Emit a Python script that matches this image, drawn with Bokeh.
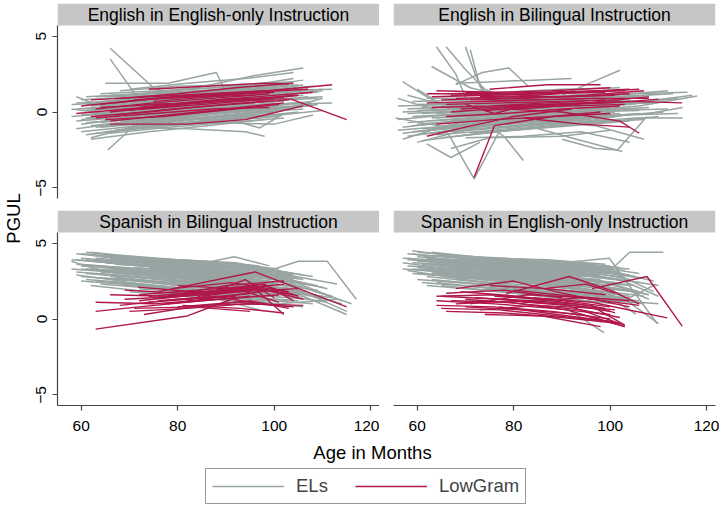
import math
from bokeh.plotting import figure
from bokeh.models import Range1d, FixedTicker, BoxAnnotation, Label, Legend, LegendItem
from bokeh.layouts import row, column
from bokeh.embed import file_html
from bokeh.resources import INLINE

# ---------------- data ----------------
PANEL_TITLES = ["English in English-only Instruction", "English in Bilingual Instruction",
                "Spanish in Bilingual Instruction", "Spanish in English-only Instruction"]
X_TICKS = [60, 80, 100, 120]
Y_TICKS = [-5, 0, 5]
X_LABEL = "Age in Months"
Y_LABEL = "PGUL"
SERIES = ["ELs", "LowGram"]

# Panel 1: English in English-only Instruction
P1_EL_AGE = [
    [59,71,83,95],[60,72,84,96],[61,73,85,97],[62,74,86,98],[63,75,87,99],
    [60,72,84,96],[61,73,85,97],[64,76,88,100],[65,77,89,101],[66,78,90,102],
    [67,79,91,103],[68,80,92,104],[62,74,86,98],[63,75,87,99],[64,76,88,100],
    [65,77,89,101],[66,78,90,102],[69,81,93,105],[70,82,94,106],[71,83,95,107],
    [72,84,96,108],[73,85,97,109],[67,79,91,103],[68,80,92,104],[59,71,83,95],
    [60,72,84,96],[61,73,85,97],[62,74,86,98],[64,76,88,100],[65,77,89,101],
    [66,75,80],[66,72,78],[65.5,69,72],[65,78,88,90],[70,82,94,104],
    [72,84,96,106],[75,87,99,112],[76,88,100,112],[74,86,98,110],[70,82,94,98],
    [76,88,100,108],[58,63,70],[59,64,70],[62,68,75],[80,92,97,102],
    [68,80,92,104],[73,85,97,105],[77,89,101,110],[80,92,104],
    [58,70,82,94],[59,71,83,95],[60,72,84,96],[61,73,85,97],[62,74,86,98],
    [63,75,87,99],[64,76,88,100],[65,77,89,101],[66,78,90,102],[67,79,91,103],
    [68,80,92,104],[69,81,93,105],[70,82,94,106],[71,83,95,107],[72,84,96,108],
    [74,86,98,110],[63,75,87,99],[60,72,84,96],[61,73,85,97],[64,76,88,100],
    [66,78,90,102],[69,81,93,105],[75,87,99,106],[78,90,102,109],
    [60,72,84,96],[62,74,86,98],[63,75,87,99],[65,77,89,101],[66,78,90,102],
    [67,79,91,103],[68,80,92,104],[70,82,94,106],[71,83,95,107],[73,85,97,109],
    [74,86,98,110],[76,88,100,110],[61,73,85,97],[64,76,88,100],[69,81,93,105],
    [72,84,96,108],[59,71,83,95],[58,70,82,94],[65,77,89,101],[77,89,101,106],
]
P1_EL_VAL = [
    [-1.1,-0.6,-0.2,0.3],[-0.8,-0.3,0.2,0.5],[-0.4,0.0,0.3,0.9],[0.1,0.4,0.8,1.0],[0.6,0.9,1.1,1.4],
    [0.8,1.0,1.3,1.5],[-1.5,-1.0,-0.6,-0.2],[-1.0,-0.7,-0.4,0.0],[-0.5,-0.2,0.1,0.4],[0.0,0.3,0.6,0.7],
    [0.3,0.6,0.9,1.2],[0.9,1.2,1.5,1.8],[-1.8,-1.3,-0.9,-0.5],[-0.2,0.1,0.5,0.7],[0.4,0.6,0.9,1.2],
    [1.0,1.1,1.3,1.7],[-0.9,-0.6,-0.2,0.2],[-0.3,0.1,0.4,0.6],[0.2,0.5,0.8,1.1],[0.6,0.9,1.3,1.5],
    [-0.6,-0.2,0.2,0.5],[0.0,0.4,0.7,0.9],[-1.2,-0.8,-0.4,-0.1],[-0.1,0.2,0.5,0.9],[0.2,0.5,0.8,1.1],
    [-0.2,0.2,0.5,0.8],[0.5,0.7,1.0,1.3],[-0.7,-0.3,0.0,0.4],[1.2,1.4,1.6,1.9],[-1.3,-0.9,-0.6,-0.3],
    [4.2,1.6,1.0],[3.5,0.8,-0.2],[-2.5,-1.5,-0.5],[1.9,1.9,2.6,1.3],[1.5,1.9,2.2,2.6],
    [1.2,1.6,2.4,2.9],[0.8,1.0,1.4,1.5],[0.2,0.4,0.5,0.6],[-0.5,-0.4,-0.2,0.9],[-1.0,-1.1,-1.3,-1.6],
    [-0.9,-0.7,-0.8,-0.2],[0.2,0.0,-0.5],[1.0,0.4,-0.8],[-1.7,-1.2,-0.6],[-0.4,-0.6,-1.05,-0.1],
    [1.4,1.7,1.8,2.0],[1.0,1.3,1.5,1.8],[0.5,0.8,1.1,1.4],[1.0,1.6,2.2],
    [-0.3,0.0,0.4,0.7],[0.6,0.8,1.1,1.3],[-1.3,-0.9,-0.5,-0.1],[0.2,0.5,0.8,1.0],[-0.9,-0.5,-0.2,0.2],
    [1.0,1.2,1.4,1.6],[-0.3,0.0,0.3,0.6],[0.5,0.8,1.1,1.2],[-1.4,-1.0,-0.7,-0.4],[0.8,1.0,1.3,1.6],
    [-0.6,-0.3,0.1,0.3],[0.5,0.8,1.1,1.4],[-0.8,-0.5,-0.1,0.2],[0.0,0.3,0.6,1.0],[0.9,1.1,1.4,1.7],
    [0.3,0.6,0.8,1.0],[-1.0,-0.6,-0.3,0.1],[0.1,0.3,0.6,0.9],[-0.7,-0.4,0.0,0.3],[0.7,1.0,1.2,1.5],
    [0.4,0.7,1.0,1.4],[-1.1,-0.7,-0.4,0.0],[1.3,1.6,1.8,2.1],[-0.3,0.0,0.2,0.5],
    [-0.5,-0.1,0.3,0.6],[0.4,0.7,1.0,1.2],[-1.4,-1.0,-0.6,-0.2],[0.1,0.4,0.7,1.0],[1.1,1.3,1.5,1.8],
    [-0.5,-0.1,0.2,0.5],[0.3,0.6,0.8,1.1],[0.9,1.2,1.4,1.6],[-0.4,-0.1,0.2,0.4],[0.6,0.9,1.1,1.3],
    [-0.9,-0.6,-0.3,0.1],[0.6,0.9,1.2,1.5],[1.0,1.2,1.4,1.7],[-0.7,-0.3,0.0,0.3],[0.2,0.5,0.9,1.2],
    [-0.2,0.1,0.4,0.7],[-0.6,-0.3,0.1,0.4],[0.5,0.7,0.9,1.2],[-0.9,-0.5,-0.1,0.2],[1.0,1.2,1.5,1.8],
]
P1_LG_AGE = [
    [59,73,85,97],[62,74,86,98],[63,75,87,99],[64,76,88,100],[65,77,89,101],
    [66,78,90,102],[67,79,91,103],[68,80,92,104],[66,82,94,106],[72,84,96,108],
    [60,72,84,96],[62,74,86,98],[75,87,99,112],[79,91,103.5,115],[74,86,98,103],
    [66,78,90,102],[69,81,93,105],[63,75,87,99],[71,83,95,107],[64,76,88,100],
    [67,79,91,103],[73,85,97,104],
]
P1_LG_VAL = [
    [-0.1,0.3,0.6,0.9],[-0.3,0.0,0.4,0.7],[0.2,0.6,0.9,1.2],[0.5,0.9,1.1,1.3],[-0.5,-0.3,0.1,0.5],
    [0.0,0.4,0.8,1.0],[0.6,1.0,1.2,1.5],[0.9,1.2,1.6,1.9],[-0.8,-0.8,-0.5,0.4],[0.3,0.7,1.0,1.3],
    [0.4,0.8,1.0,1.1],[0.8,1.0,1.2,1.4],[0.7,1.0,1.4,1.8],[0.5,0.9,0.85,-0.5],[1.5,1.7,1.9,1.85],
    [-0.6,-0.2,0.2,0.6],[0.1,0.4,0.7,1.1],[-0.4,-0.1,0.2,0.3],[0.8,1.1,1.3,1.5],[0.3,0.5,0.7,0.8],
    [-0.2,0.2,0.5,0.8],[0.5,0.6,0.9,1.1],
]

# Panel 2: English in Bilingual Instruction
P2_EL_AGE = [
    [56,66,78,90],[57,68,80,92],[58,69,81,93],[58,70,82,94],[59,71,83,95],
    [59,71,83,95],[60,72,84,96],[60,72,84,96],[61,73,85,97],[61,73,85,97],
    [62,74,86,98],[62,74,86,98],[63,75,87,99],[63,75,87,99],[64,76,88,100],
    [64,76,88,100],[65,77,89,101],[65,77,89,101],[66,78,90,102],[66,78,90,102],
    [67,79,91,103],[68,80,92,104],[69,81,93,105],[70,82,94,106],[72,84,96,108],
    [74,86,98,110],[76,88,100,112],[78,90,102,114],[80,92,104,116],[82,94,106,118],
    [81,93,105,115],[79,91,103,114],[64,68,72,76],[66,70,74,78],[70,72,75,80],
    [71,73,75],[68,73.5,79,83],[66,71.8,77],[62,67,73],[74,78,82],
    [88,95,102],[90,97,101.5,107.6],[84,93,102.5],[95,104,113.6],[57,62,67],
    [60,65,70],[63,71,80],[68,76,84,92],[70,82,94,104],[67,75,90,100],
    [85,97,107],
    [56,67,79,91],[57,69,81,93],[58,70,82,94],[59,71,83,95],[60,72,84,96],
    [61,73,85,97],[62,74,86,98],[63,75,87,99],[64,76,88,100],[65,77,89,101],
    [66,78,90,102],[67,79,91,103],[68,80,92,104],[69,81,93,105],[70,82,94,106],
    [71,83,95,107],[73,85,97,109],[75,87,99,111],[77,89,101,113],[57,63,70],
    [58,64,71],[60,66,74],[83,95,107,117],
    [56,68,80,92],[57,69,81,93],[58,70,82,94],[59,71,83,95],[60,72,84,96],
    [61,73,85,97],[62,74,86,98],[63,75,87,99],[64,76,88,100],[65,77,89,101],
    [66,78,90,102],[67,79,91,103],[68,80,92,104],[70,82,94,106],[72,84,96,108],
    [74,86,98,110],[76,88,100,112],[55.5,61,66],[56,60,65],[84,96,108,115],
]
P2_EL_VAL = [
    [-0.5,-0.2,0.1,0.3],[-1.0,-0.6,-0.3,0.0],[-1.6,-1.1,-0.7,-0.4],[0.2,0.4,0.5,0.7],[-0.3,-0.1,0.2,0.5],
    [-1.3,-0.9,-0.6,-0.2],[0.5,0.6,0.8,1.0],[-0.8,-0.5,-0.2,0.2],[-0.1,0.1,0.3,0.6],[-1.9,-1.4,-1.0,-0.7],
    [-0.6,-0.4,-0.1,0.1],[0.9,0.9,1.0,1.2],[-1.1,-0.8,-0.4,-0.1],[0.1,0.3,0.4,0.6],[-0.4,-0.2,0.0,0.3],
    [-1.5,-1.2,-0.8,-0.5],[0.3,0.5,0.7,0.9],[-0.9,-0.6,-0.3,0.0],[-0.2,0.0,0.2,0.4],[1.2,1.3,1.5,1.6],
    [-1.3,-1.0,-0.6,-0.2],[0.0,0.2,0.5,0.8],[-0.7,-0.4,-0.1,0.2],[0.6,0.7,0.9,1.1],[-0.3,-0.1,0.1,0.3],
    [0.4,0.6,0.8,1.2],[-0.5,-0.2,0.1,0.2],[0.3,0.5,0.6,0.9],[0.9,1.0,1.2,1.3],[-0.2,0.1,0.4,1.05],
    [-0.9,-0.7,-0.4,-0.4],[-1.2,-0.8,-0.2,-0.1],[4.3,2.5,-0.5,-1.0],[4.3,2.8,1.5,1.0],[4.3,2.5,0.6,0.2],
    [4.1,1.7,0.8],[1.8,2.6,2.9,1.7],[-1.2,-4.4,-1.3],[-2.1,-3.0,-2.0],[-0.8,-1.6,-3.2],
    [0.8,1.8,2.75],[-1.8,-2.4,-2.5,-0.3],[-1.0,-1.8,-2.6],[0.3,0.5,0.9],[2.0,1.0,0.2],
    [1.5,0.5,-0.3],[3.0,1.6,0.9],[1.9,2.0,2.1,2.2],[-1.7,-1.6,-1.3,-2.0],[-2.4,-1.7,-1.6,-1.2],
    [-0.6,-0.9,-1.8],
    [-1.2,-0.9,-0.5,-0.2],[0.0,0.2,0.4,0.6],[-0.7,-0.4,-0.1,0.1],[0.7,0.8,1.0,1.1],[-1.5,-1.1,-0.8,-0.5],
    [0.3,0.4,0.6,0.8],[-1.2,-0.9,-0.5,-0.3],[-0.4,-0.1,0.1,0.4],[0.6,0.7,0.8,1.0],[-1.7,-1.3,-0.9,-0.6],
    [-0.9,-0.6,-0.4,-0.1],[0.4,0.5,0.7,0.9],[-1.0,-0.7,-0.5,-0.2],[0.8,0.9,1.1,1.2],[-0.5,-0.3,0.0,0.1],
    [-1.4,-1.1,-0.7,-0.5],[0.1,0.3,0.5,0.6],[-0.9,-0.6,-0.3,0.0],[0.6,0.8,1.0,1.2],[-1.8,-1.2,-0.6],
    [1.1,0.6,0.2],[-2.0,-1.5,-0.9],[0.2,0.4,0.7,1.1],
    [0.4,0.5,0.7,0.8],[-1.4,-1.0,-0.7,-0.4],[-0.1,0.1,0.3,0.5],[-0.9,-0.6,-0.3,0.0],[0.1,0.3,0.4,0.6],
    [-1.1,-0.8,-0.5,-0.2],[0.5,0.6,0.7,0.9],[-0.8,-0.5,-0.2,0.1],[-0.1,0.1,0.3,0.5],[-1.3,-1.0,-0.6,-0.3],
    [0.6,0.7,0.9,1.1],[-0.6,-0.3,0.0,0.3],[-1.6,-1.2,-0.9,-0.6],[-1.0,-0.7,-0.4,-0.1],[0.5,0.7,0.9,1.0],
    [-1.3,-1.0,-0.7,-0.3],[0.8,0.9,1.1,1.4],[-0.4,-0.7,-1.0],[0.9,0.5,0.1],[-0.5,-0.3,-0.1,0.3],
]
P2_LG_AGE = [
    [62,74,86,98],[62,74,86,98],[63,75,87,99],[63,75,87,99],[64,76,88,100],
    [65,77,89,101],[66,78,90,102],[67,79,91,103],[68,80,92,104],[69,81,93,105],
    [70,82,94,106],[72,84,96,108],[66,78,90,102],[70,76,82],[62,70,80,92],
    [71.8,76,88,98],[74,86,98,108],[76,88,100,110],[78,90,102,106],[80,92,104,114.9],
    [64,76,88,100],[67,79,91,103],[73,85,97,104],[82,94,104],[71,83,95,107],
    [75,87,98],
]
P2_LG_VAL = [
    [1.2,1.2,1.3,1.4],[0.6,0.7,0.8,0.9],[1.0,1.1,1.2,1.3],[0.3,0.4,0.6,0.8],[1.4,1.3,1.4,1.6],
    [0.8,0.9,1.0,1.1],[0.5,0.6,0.7,0.8],[1.1,1.2,1.3,1.4],[0.9,1.0,1.0,1.2],[0.2,0.4,0.6,0.7],
    [1.3,1.2,1.3,1.5],[0.7,0.8,0.9,0.9],[-0.3,-0.1,0.2,0.4],[0.5,-0.1,0.4],[-1.6,-1.0,-0.3,0.2],
    [-4.3,-0.9,-0.3,0.0],[0.1,0.3,0.7,1.0],[0.4,0.5,0.6,0.85],[0.2,0.0,-0.6,-1.4],[0.3,0.5,0.7,0.6],
    [-0.8,-0.5,-0.3,-0.1],[0.0,0.3,0.4,0.5],[1.0,1.1,1.4,1.5],[-0.4,-0.8,-1.0],[0.8,0.9,1.1,1.4],
    [1.5,1.8,1.8],
]

# Panel 3: Spanish in Bilingual Instruction
P3_EL_AGE = [
    [59,71,83,95],[59,71,83,95],[60,72,84,96],[60,72,84,96],[61,73,85,97],
    [61,73,85,97],[62,74,86,98],[62,74,86,98],[63,75,87,99],[63,75,87,99],
    [64,76,88,100],[64,76,88,100],[65,77,89,101],[65,77,89,101],[66,78,90,102],
    [66,78,90,102],[67,79,91,103],[67,79,91,103],[68,80,92,104],[69,81,93,105],
    [70,82,94,106],[71,83,95,107],[72,84,96,108],[73,85,97,109],[74,86,98,110],
    [76,88,100,112],[78,90,102,114],[79,91,103,115],[80,92,104,116],[88,100,105,111,117],
    [58,62,68],[59,66,74],[60,70,80,90],[68,80,92,104],[70,82,94,106],
    [75,87,99,111],[77,89,101,113],[82,94,106,115],[73,85,92,97],[86,93,99,104],
    [81,91.7,99],[62,74,86,98],[85,97,103],[61,73,85,97],[63,75,87,99],
    [58,70,82,94],[59,71,83,95],[60,72,84,96],[60,72,84,96],[61,73,85,97],
    [62,74,86,98],[62,74,86,98],[63,75,87,99],[64,76,88,100],[64,76,88,100],
    [65,77,89,101],[65,77,89,101],[66,78,90,102],[67,79,91,103],[67,79,91,103],
    [68,80,92,104],[69,81,93,105],[70,82,94,106],[71,83,95,107],[72,84,96,108],
    [74,86,98,110],[76,88,100,112],[77,89,101,113],[81,93,105,114],
    [59,71,83,95],[60,72,84,96],[61,73,85,97],[62,74,86,98],[63,75,87,99],
    [64,76,88,100],[65,77,89,101],[66,78,90,102],[67,79,91,103],[68,80,92,104],
    [69,81,93,105],[70,82,94,106],[71,83,95,107],[73,85,97,109],[75,87,99,111],
    [58,70,82,94],[60,72,84,96],[62,74,86,98],[64,76,88,100],[78,90,102,112],
]
P3_EL_VAL = [
    [4.3,3.9,3.6,3.2],[3.6,3.3,3.0,2.6],[4.0,3.7,3.4,3.0],[2.8,2.5,2.2,1.8],[3.3,3.1,2.7,2.4],
    [4.4,4.0,3.8,3.5],[3.0,2.7,2.3,2.0],[3.8,3.5,3.3,2.9],[2.5,2.2,1.8,1.5],[3.5,3.3,3.0,2.7],
    [4.1,3.8,3.6,3.2],[3.1,2.8,2.4,2.1],[3.7,3.4,3.1,2.8],[2.7,2.3,1.9,1.5],[3.3,3.0,2.6,2.2],
    [4.0,3.7,3.5,3.1],[2.4,2.0,1.6,1.2],[3.6,3.4,3.2,2.8],[3.0,2.7,2.4,2.0],[3.9,3.6,3.3,2.7],
    [2.6,2.3,1.9,1.6],[3.4,3.1,2.8,2.3],[2.0,1.7,1.3,1.0],[3.7,3.4,3.0,2.2],[2.8,2.5,2.1,1.5],
    [3.2,3.0,2.6,1.5],[3.5,3.2,2.7,1.2],[2.9,2.6,2.2,0.5],[3.0,2.8,2.3,1.0],[3.4,3.3,3.8,3.8,1.3],
    [3.8,3.4,3.0],[2.9,2.6,2.2],[3.5,3.3,3.0,2.7],[4.2,3.9,3.7,3.0],[1.8,1.5,1.1,0.8],
    [2.4,2.0,1.7,1.1],[1.6,1.3,1.0,1.3],[2.2,1.8,1.5,0.3],[2.2,1.6,1.0,0.6],[3.0,3.6,3.2,2.6],
    [3.4,4.1,3.5],[2.2,1.8,1.5,1.2],[1.8,1.2,0.8],[3.9,3.6,3.3,3.0],[4.2,3.9,3.7,3.3],
    [3.9,3.6,3.3,2.9],[3.1,2.8,2.4,2.1],[4.3,4.0,3.7,3.4],[3.3,3.0,2.7,2.3],[2.6,2.3,1.9,1.6],
    [4.2,3.9,3.6,3.3],[3.5,3.2,2.9,2.5],[3.0,2.7,2.3,1.9],[3.8,3.5,3.2,2.9],[2.7,2.4,2.0,1.7],
    [4.2,3.9,3.7,3.3],[3.2,2.9,2.6,2.3],[2.8,2.4,2.1,1.7],[3.9,3.6,3.4,3.0],[3.1,2.8,2.4,2.0],
    [3.6,3.3,3.0,2.5],[2.2,1.9,1.5,1.2],[3.6,3.4,3.1,2.6],[2.9,2.6,2.2,1.8],[3.9,3.7,3.4,2.8],
    [3.4,3.1,2.7,2.1],[2.6,2.2,1.9,1.4],[3.6,3.4,3.0,2.3],[2.5,2.2,1.8,1.0],
    [3.9,3.6,3.2,2.8],[3.6,3.3,3.0,2.6],[3.0,2.7,2.3,2.0],[3.3,3.0,2.7,2.3],[4.0,3.7,3.4,3.1],
    [3.4,3.1,2.8,2.4],[2.9,2.6,2.2,1.8],[3.7,3.4,3.1,2.7],[2.7,2.4,2.0,1.6],[3.9,3.6,3.4,2.9],
    [3.2,2.9,2.6,2.1],[4.0,3.8,3.5,2.9],[2.3,2.0,1.6,1.3],[3.1,2.8,2.4,1.9],[3.6,3.3,2.9,2.0],
    [3.3,3.0,2.7,2.3],[2.5,2.2,1.8,1.5],[4.4,4.0,3.8,3.4],[2.3,2.0,1.6,1.3],[2.6,2.3,1.9,1.2],
]
P3_LG_AGE = [
    [63,82,92],[76,96,115],[63,75,87],[63,72,85,95],[66,78,90,102],
    [69,81,93,105],[70,82,94,106],[72,84,96,102],[73,85,97],[71.8,87,99],
    [74,86,98,104],[77,89,101],[78,90,102],[80,92,104],[82,94,100],
    [71,83,95],[68,80,92],[79,91,103],[85,97,106],[81,93,102],
    [76,88,97],[69,81,93],
    [75,87,99],[78,90,100],[83,95,104],[72,84,96],[80,92,101],
    [86,95,103],[74,86,95],[88,97,105],
]
P3_LG_VAL = [
    [-0.67,0.2,1.4],[1.8,3.1,0.8],[1.1,1.0,1.3],[0.5,0.8,1.2,1.5],[1.6,1.5,1.9,2.3],
    [1.3,1.5,1.8,2.0],[0.5,0.7,1.0,0.9],[1.2,1.6,2.0,0.3],[0.3,0.9,1.0],[2.1,1.7,2.2],
    [1.5,1.8,2.3,1.2],[1.0,1.3,1.6],[1.5,2.2,2.5],[0.8,1.1,0.8],[1.2,2.6,1.4],
    [0.7,0.8,0.5],[0.9,1.3,1.5],[2.0,2.4,1.8],[1.5,2.0,1.3],[0.9,0.7,0.4],
    [1.2,1.5,1.0],[1.9,1.7,2.0],
    [1.4,1.7,2.0],[1.0,1.5,1.9],[1.7,2.1,1.6],[1.6,1.9,2.2],[2.2,2.0,1.1],
    [0.9,1.2,0.7],[1.1,1.4,1.7],[1.8,2.3,1.5],
]

# Panel 4: Spanish in English-only Instruction
P4_EL_AGE = [
    [57,69,81,93],[58,70,82,94],[59,71,83,95],[59,71,83,95],[60,72,84,96],
    [60,72,84,96],[61,73,85,97],[61,73,85,97],[62,74,86,98],[62,74,86,98],
    [63,75,87,99],[63,75,87,99],[64,76,88,100],[64,76,88,100],[65,77,89,101],
    [66,78,90,102],[67,79,91,103],[68,80,92,104],[69,81,93,105],[70,82,94,106],
    [72,84,96,108],[74,86,98,110],[76,88,100,104,111],[78,90,99.8,109.7],[80,92,100,110],
    [82,94,104,109.5],[84,96,104,110],[86,98,105.3],[88,98.7],[58,64,70],
    [58,66,74],[65,77,89,101],[70,82,94,106],[73,85,97,103],[75,87,95,100],
    [78,90,102,110],[60,72,84,96],[63,75,87,99],[66,78,90,102],[62,74,86,98],
    [90,100,108],[68,80,92,104],
    [57,69,81,93],[58,70,82,94],[59,71,83,95],[60,72,84,96],[60,72,84,96],
    [61,73,85,97],[61,73,85,97],[62,74,86,98],[62,74,86,98],[63,75,87,99],
    [63,75,87,99],[64,76,88,100],[64,76,88,100],[65,77,89,101],[66,78,90,102],
    [66,78,90,102],[67,79,91,103],[68,80,92,104],[69,81,93,105],[70,82,94,106],
    [71,83,95,107],[73,85,97,109],[76,88,100,108],
    [58,70,82,94],[59,71,83,95],[60,72,84,96],[61,73,85,97],[62,74,86,98],
    [63,75,87,99],[64,76,88,100],[65,77,89,101],[66,78,90,102],[67,79,91,103],
    [68,80,92,104],[69,81,93,105],[70,82,94,106],[71,83,95,107],[72,84,96,104],
    [74,86,98,106],[75,87,99,104],[59,64,69],[57,62,68],[77,89,101,109],
]
P4_EL_VAL = [
    [4.0,3.8,3.6,3.3],[3.5,3.3,3.1,2.8],[4.5,4.0,3.8,3.5],[3.0,2.7,2.4,2.0],[3.8,3.6,3.5,3.2],
    [2.6,2.3,1.9,1.5],[4.2,3.9,3.7,3.4],[3.3,3.0,2.7,2.3],[3.6,3.4,3.2,2.9],[2.8,2.4,2.0,1.6],
    [4.0,3.7,3.6,3.3],[3.1,2.8,2.5,2.1],[3.5,3.3,3.1,2.7],[2.4,2.0,1.7,1.3],[3.8,3.6,3.5,3.1],
    [3.0,2.7,2.4,2.0],[3.4,3.2,3.0,2.5],[2.6,2.3,2.0,1.5],[3.6,3.5,3.3,2.8],[2.2,1.9,1.6,1.2],
    [3.1,2.9,2.6,1.6],[2.0,1.7,1.3,1.0],[3.5,3.6,3.2,4.4,4.4],[3.3,3.7,4.0,-0.3],[2.8,2.6,2.0,-0.3],
    [1.9,1.6,1.4,2.3],[3.0,2.8,2.5,2.2],[2.2,1.8,0.33],[1.3,-0.9],[4.0,3.7,3.2],
    [3.2,2.8,2.4],[2.2,1.8,1.4,1.0],[4.0,3.8,3.6,3.0],[2.6,2.3,1.8,1.2],[1.6,1.2,0.8,0.5],
    [3.0,3.2,2.6,1.5],[3.4,3.1,2.9,2.6],[4.4,4.0,3.9,3.6],[4.1,3.8,3.7,3.4],[2.2,1.9,1.5,1.1],
    [2.6,2.4,1.3],[3.9,3.7,3.6,3.3],
    [3.3,3.0,2.8,2.5],[4.3,4.0,3.8,3.5],[3.7,3.5,3.3,3.0],[4.4,4.1,3.9,3.6],[3.0,2.7,2.4,2.1],
    [3.6,3.3,3.1,2.8],[2.4,2.1,1.7,1.3],[4.0,3.8,3.6,3.3],[3.2,2.9,2.6,2.3],[3.7,3.5,3.4,3.0],
    [2.6,2.2,1.9,1.5],[4.2,3.9,3.8,3.5],[3.0,2.8,2.5,2.2],[3.3,3.0,2.8,2.4],[3.6,3.4,3.2,2.8],
    [2.5,2.2,1.9,1.4],[3.9,3.7,3.5,3.2],[3.1,2.9,2.6,2.2],[2.8,2.5,2.2,1.8],[3.4,3.2,3.0,2.4],
    [2.0,1.7,1.4,1.0],[3.7,3.6,3.4,2.5],[2.7,2.5,2.1,1.6],
    [3.9,3.7,3.5,3.2],[3.3,3.1,2.9,2.5],[4.1,3.8,3.6,3.3],[3.9,3.7,3.4,3.1],[3.4,3.2,2.9,2.6],
    [3.0,2.7,2.4,2.0],[3.8,3.6,3.4,3.1],[2.8,2.5,2.2,1.7],[3.9,3.7,3.5,3.1],[3.0,2.7,2.4,1.9],
    [3.6,3.4,3.3,2.9],[3.2,3.0,2.7,2.2],[3.7,3.5,3.3,2.7],[2.7,2.4,2.0,1.5],[3.5,3.3,3.1,2.6],
    [3.2,2.9,2.5,1.8],[2.3,2.0,1.7,1.2],[4.3,4.0,3.7],[3.7,3.5,3.2],[3.6,3.5,3.0,1.8],
]
P4_LG_AGE = [
    [64,76,88,100],[64,76,88,100],[65,77,89,101],[66,78,90,102],[67,79,91,103],
    [68,80,88.7,96],[78.4,91.5,100,106],[96.2,107.6,114.9],[84,96.2,111.8],[70,82,94,103],
    [72,84,96,101],[74,86,98],[69,81,93,99],[71,83,95,104],[75,87,99],
    [73,85,97,103],[80,92,104],[77,89,101],[86,95,101],[66,78,90],
    [82,94,106],
    [65,77,89,101],[70,82,94,102],[76,88,100],[68,80,92,100],[79,91,103],[64,76,88],
]
P4_LG_VAL = [
    [1.2,1.0,0.7,0.3],[0.9,0.8,0.5,0.0],[1.5,1.3,1.0,0.6],[0.5,0.4,0.1,-0.3],[1.2,1.1,0.6,-0.5],
    [2.0,2.5,1.8,1.3],[1.67,2.8,1.9,1.0],[2.0,2.8,-0.47],[1.4,1.1,0.07],[0.8,0.6,0.3,-0.5],
    [1.4,1.2,0.9,0.4],[0.3,0.2,-0.5],[1.8,1.5,1.0,0.7],[1.0,1.6,1.4,0.8],[2.2,2.0,1.6],
    [0.6,0.9,0.7,-0.4],[1.9,1.5,1.2],[0.8,0.3,-0.2],[2.0,2.3,1.7],[1.7,1.9,1.4],
    [1.1,1.4,0.9],
    [0.7,0.6,0.2,-0.2],[1.3,1.0,0.6,0.1],[1.5,1.3,0.8],[1.0,1.2,0.9,0.5],[1.2,0.9,-0.4],[1.5,1.6,1.2],
]

# ---------------- style / geometry ----------------
X_RANGE = (55.1, 121.8)
Y_LIM = 5.7
FRAME_W = 322
DATA_H = 173
HEAD_H = 22
UNIT_PER_PX = 2 * Y_LIM / DATA_H
Y_TOP = Y_LIM + HEAD_H * UNIT_PER_PX

GRAY = "#98a5a3"
RED = "#b0184a"
HEAD = "#c6c6c6"
AXIS = "#444444"
FONT = "Liberation Sans"

TOP_BOTTOM_GAP = 12
AXIS_BORDER = 33


def panel(title, el_age, el_val, lg_age, lg_val, left_axis, bottom_axis, b_left, b_right, b_bottom):
    p = figure(frame_width=FRAME_W, frame_height=DATA_H + HEAD_H,
               x_range=Range1d(*X_RANGE), y_range=Range1d(-Y_LIM, Y_TOP),
               x_axis_location="below" if bottom_axis else None,
               y_axis_location="left" if left_axis else None,
               output_backend="svg", toolbar_location=None,
               min_border_left=b_left, min_border_right=b_right,
               min_border_top=0, min_border_bottom=b_bottom,
               outline_line_color=None, background_fill_color="white",
               border_fill_color="white")
    p.grid.visible = False
    p.add_layout(BoxAnnotation(bottom=Y_LIM, fill_color=HEAD, fill_alpha=1.0,
                               line_color=None, level="underlay"))
    p.add_layout(Label(x=(X_RANGE[0] + X_RANGE[1]) / 2, y=Y_LIM + HEAD_H * UNIT_PER_PX / 2,
                       text=title, text_align="center", text_baseline="middle",
                       text_font=FONT, text_font_size="17.5px", text_color="black"))
    p.multi_line(xs=el_age, ys=el_val, line_color=GRAY, line_width=1.5)
    p.multi_line(xs=lg_age, ys=lg_val, line_color=RED, line_width=1.4)
    for ax in p.axis:
        ax.axis_line_color = AXIS
        ax.axis_line_width = 1.2
        ax.major_tick_line_color = AXIS
        ax.major_tick_line_width = 1.2
        ax.minor_tick_line_color = None
        ax.major_tick_out = 5
        ax.major_tick_in = 0
        ax.major_label_text_font = FONT
        ax.major_label_text_font_size = "15.5px"
        ax.major_label_text_color = "black"
    if left_axis:
        p.yaxis.ticker = FixedTicker(ticks=Y_TICKS)
        p.yaxis.bounds = (-Y_LIM, Y_LIM)
        p.yaxis.major_label_orientation = "vertical"
        p.yaxis.major_label_standoff = 6
    if bottom_axis:
        p.xaxis.ticker = FixedTicker(ticks=X_TICKS)
        p.xaxis.major_label_standoff = 10
    return p


tl = panel(PANEL_TITLES[0], P1_EL_AGE, P1_EL_VAL, P1_LG_AGE, P1_LG_VAL, True, False, 32, 0, TOP_BOTTOM_GAP)
tr = panel(PANEL_TITLES[1], P2_EL_AGE, P2_EL_VAL, P2_LG_AGE, P2_LG_VAL, False, False, 14, 4, TOP_BOTTOM_GAP)
bl = panel(PANEL_TITLES[2], P3_EL_AGE, P3_EL_VAL, P3_LG_AGE, P3_LG_VAL, True, True, 32, 0, AXIS_BORDER)
br = panel(PANEL_TITLES[3], P4_EL_AGE, P4_EL_VAL, P4_LG_AGE, P4_LG_VAL, False, True, 14, 4, AXIS_BORDER)

GRID_H = (DATA_H + HEAD_H + TOP_BOTTOM_GAP) + (DATA_H + HEAD_H + AXIS_BORDER)


def blank(w, h):
    f = figure(width=w, height=h, x_range=Range1d(0, w), y_range=Range1d(0, h),
               x_axis_location=None, y_axis_location=None, output_backend="svg",
               toolbar_location=None, min_border=0, outline_line_color=None,
               background_fill_color="white", border_fill_color="white")
    f.grid.visible = False
    return f


ylab = blank(25, GRID_H)
ylab.add_layout(Label(x=13, y=GRID_H - 215, text=Y_LABEL, angle=math.pi / 2,
                      text_align="center", text_baseline="middle",
                      text_font=FONT, text_font_size="18.5px", text_color="black"))

FOOT_W, FOOT_H = 719, 66
foot = blank(FOOT_W, FOOT_H)
foot.add_layout(Label(x=372, y=FOOT_H - 14, text=X_LABEL, text_align="center",
                      text_baseline="middle", text_font=FONT, text_font_size="18.5px",
                      text_color="black"))
# invisible renderers (real data) that only serve as legend glyph sources
r_el = foot.line(x=P1_EL_AGE[0], y=P1_EL_VAL[0], line_color=GRAY, line_width=1.6, visible=False)
r_lg = foot.line(x=P1_LG_AGE[0], y=P1_LG_VAL[0], line_color=RED, line_width=1.6, visible=False)
legend = Legend(items=[LegendItem(label=SERIES[0], renderers=[r_el]),
                       LegendItem(label=SERIES[1], renderers=[r_lg])],
                orientation="horizontal", location=(205, 0),
                label_text_font=FONT, label_text_font_size="18.5px",
                glyph_width=72, glyph_height=18, label_height=18, label_standoff=12,
                spacing=27, padding=6, margin=0,
                border_line_color="#333333", border_line_width=1.2,
                background_fill_color="white", background_fill_alpha=1.0,
                inactive_fill_alpha=0.0)
foot.add_layout(legend)

grid = column(row(tl, tr), row(bl, br))
root = column(row(ylab, grid), foot, margin=(3, 0, 0, 0))

open("out.html", "w").write(file_html(root, INLINE))
